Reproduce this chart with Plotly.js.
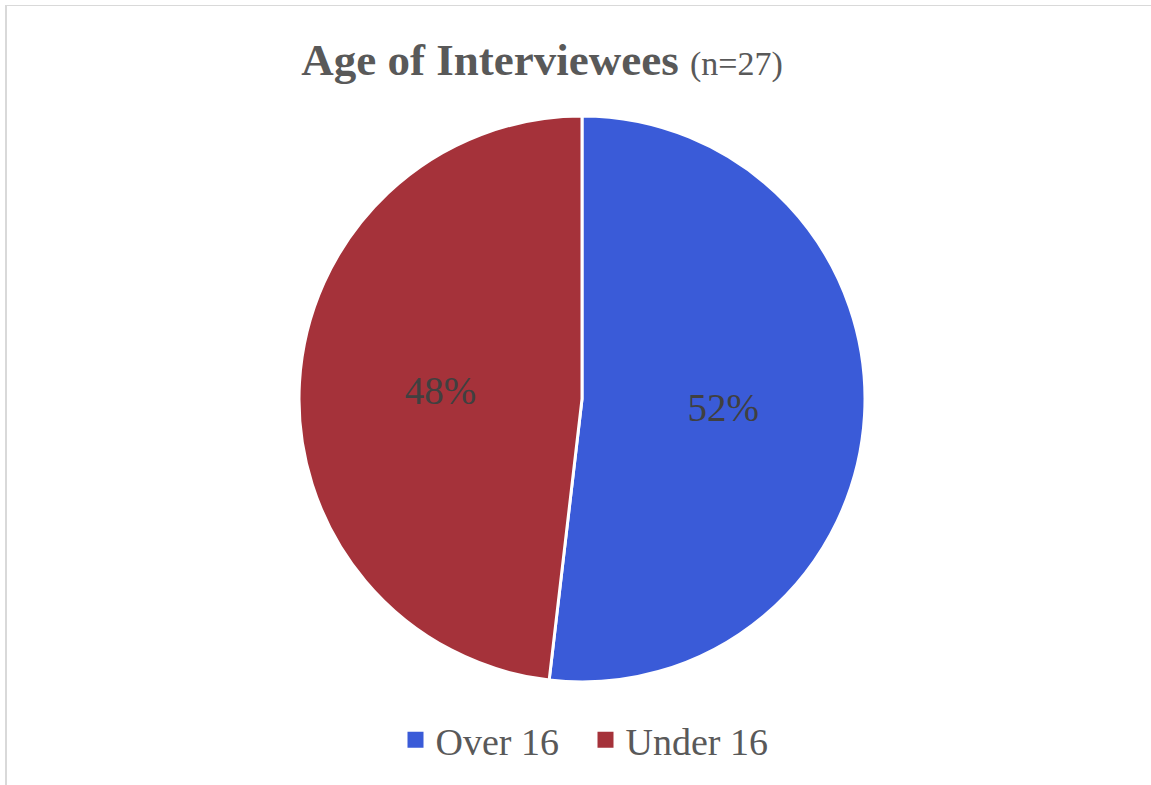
<!DOCTYPE html>
<html>
<head>
<meta charset="utf-8">
<script src="https://cdn.plot.ly/plotly-3.0.1.min.js"></script>
<style>
  html, body { margin: 0; padding: 0; background: #ffffff; overflow: hidden; }
  #wrap { position: relative; width: 1151px; height: 785px; overflow: hidden; }
  #chart { position: absolute; left: 0; top: 0; width: 1151px; height: 785px; }
  #frame { position: absolute; left: 5px; top: 5px; width: 1170px; height: 800px;
           border-left: 2px solid #d9d9d9; border-top: 1px solid #d9d9d9; pointer-events: none; }
</style>
</head>
<body>
<div id="wrap">
  <div id="chart"></div>
  <div id="frame"></div>
</div>
<script>
  const categories = ["Over 16", "Under 16"];
  const counts = [14, 13];
  const sliceColors = ["#3A5BD8", "#A5323A"];
  const chartTitle = "Age of Interviewees";
  const sampleNote = "(n=27)";

  const W = 1151, H = 785;
  const cx = 582, cy = 399, R = 283;

  const trace = {
    type: "pie",
    labels: categories,
    values: counts,
    sort: false,
    direction: "clockwise",
    rotation: 0,
    marker: { colors: sliceColors, line: { color: "#ffffff", width: 3 } },
    texttemplate: "%{percent:.0%}",
    textposition: "inside",
    insidetextorientation: "horizontal",
    textfont: { family: "Liberation Serif, serif", size: 39, color: "#404040" },
    hoverinfo: "none",
    domain: {
      x: [(cx - R) / W, (cx + R) / W],
      y: [(H - (cy + R)) / H, (H - (cy - R)) / H]
    }
  };

  const layout = {
    width: W, height: H,
    margin: { l: 0, r: 0, t: 0, b: 0, pad: 0 },
    paper_bgcolor: "#ffffff",
    plot_bgcolor: "#ffffff",
    title: {
      text: "<b>" + chartTitle + "</b> <span style='font-size:34px'>" + sampleNote + "</span>",
      font: { family: "Liberation Serif, serif", size: 45, color: "#595959" },
      x: 542 / W, xanchor: "center", xref: "paper",
      y: 1 - 59 / H, yanchor: "middle", yref: "paper"
    },
    showlegend: true,
    legend: {
      orientation: "h",
      x: 585.5 / W, xanchor: "center",
      y: (H - 740) / H, yanchor: "middle",
      entrywidth: 145, entrywidthmode: "pixels",
      font: { family: "Liberation Serif, serif", size: 38, color: "#595959" },
      bgcolor: "rgba(0,0,0,0)",
      itemclick: false, itemdoubleclick: false
    }
  };

  function enlargeLegendSymbols() {
    document.querySelectorAll("#chart .legendpoints path").forEach(function (p) {
      p.setAttribute("d", "M8,8H-8V-8H8Z");
      p.style.strokeWidth = "0px";
    });
  }

  Plotly.newPlot("chart", [trace], layout, { displayModeBar: false, staticPlot: true }).then(function (gd) {
    enlargeLegendSymbols();
    gd.on("plotly_afterplot", enlargeLegendSymbols);
  });
</script>
</body>
</html>
